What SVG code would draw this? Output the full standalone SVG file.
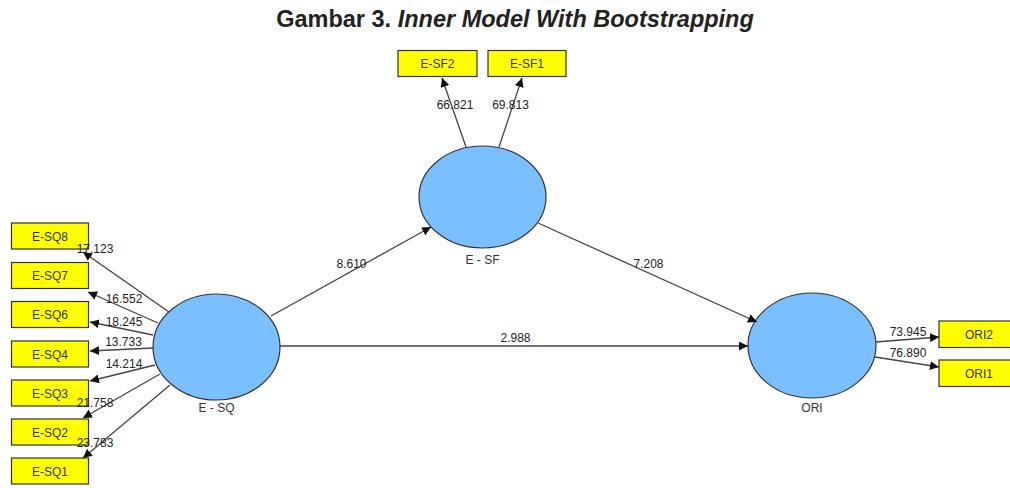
<svg xmlns="http://www.w3.org/2000/svg" width="1010" height="488" viewBox="0 0 1010 488">
<defs>
<marker id="ah" viewBox="0 0 10 10" refX="10" refY="5" markerWidth="9" markerHeight="9" markerUnits="userSpaceOnUse" orient="auto">
<path d="M0,0 L10,5 L0,10 z" fill="#111"/>
</marker>
<style>
.box{fill:#ffff00;stroke:#333;stroke-width:1.2}
.lv{fill:#7abfff;stroke:#333;stroke-width:1.2}
.t{font-family:"Liberation Sans",Arial,sans-serif;font-size:12px;fill:#222;text-anchor:middle}
.n{font-family:"Liberation Sans",Arial,sans-serif;font-size:12px;fill:#333;text-anchor:middle}
.c{stroke:#444;stroke-width:1.3;fill:none;marker-end:url(#ah)}
</style>
</defs>
<rect width="1010" height="488" fill="#fff"/>
<text x="515" y="26.5" font-family="'Liberation Sans',Arial,sans-serif" font-size="23.5" font-weight="bold" fill="#222" text-anchor="middle">Gambar 3. <tspan font-style="italic">Inner Model With Bootstrapping</tspan></text>

<g id="E-SQ"><ellipse class="lv" cx="216.5" cy="347" rx="63.5" ry="53"/><text class="n" x="216.5" y="412">E - SQ</text></g>
<g id="E-SF"><ellipse class="lv" cx="482.5" cy="197" rx="63.5" ry="51"/><text class="n" x="482.5" y="264">E - SF</text></g>
<g id="ORI"><ellipse class="lv" cx="812" cy="345.5" rx="64" ry="52.5"/><text class="n" x="812" y="412">ORI</text></g>

<g id="E-SQ8"><rect class="box" x="11.5" y="223" width="77" height="26"/><text class="n" x="50" y="240.5">E-SQ8</text></g>
<g id="E-SQ7"><rect class="box" x="11.5" y="262.5" width="77" height="26"/><text class="n" x="50" y="280">E-SQ7</text></g>
<g id="E-SQ6"><rect class="box" x="11.5" y="301.5" width="77" height="26"/><text class="n" x="50" y="319">E-SQ6</text></g>
<g id="E-SQ4"><rect class="box" x="11.5" y="341" width="77" height="26"/><text class="n" x="50" y="358.5">E-SQ4</text></g>
<g id="E-SQ3"><rect class="box" x="11.5" y="380" width="77" height="26"/><text class="n" x="50" y="397.5">E-SQ3</text></g>
<g id="E-SQ2"><rect class="box" x="11.5" y="419" width="77" height="26"/><text class="n" x="50" y="436.5">E-SQ2</text></g>
<g id="E-SQ1"><rect class="box" x="11.5" y="458" width="77" height="26"/><text class="n" x="50" y="475.5">E-SQ1</text></g>
<g id="E-SF2"><rect class="box" x="398" y="50.5" width="79" height="26"/><text class="n" x="437.5" y="68">E-SF2</text></g>
<g id="E-SF1"><rect class="box" x="488" y="50.5" width="78" height="26"/><text class="n" x="527" y="68">E-SF1</text></g>
<g id="ORI2"><rect class="box" x="939" y="321" width="78" height="26.5"/><text class="n" x="979" y="338.5">ORI2</text></g>
<g id="ORI1"><rect class="box" x="939" y="360" width="78" height="26.5"/><text class="n" x="979" y="377.5">ORI1</text></g>

<g id="connectors">
<line class="c" x1="169" y1="312" x2="83" y2="252"/>
<line class="c" x1="158" y1="323" x2="88" y2="292"/>
<line class="c" x1="153" y1="335" x2="90" y2="322"/>
<line class="c" x1="153" y1="348" x2="90" y2="351"/>
<line class="c" x1="155" y1="365" x2="90" y2="381"/>
<line class="c" x1="160" y1="374" x2="83" y2="418"/>
<line class="c" x1="170" y1="385" x2="83" y2="458"/>
<line class="c" x1="466" y1="147" x2="442" y2="78"/>
<line class="c" x1="499" y1="147" x2="522" y2="78"/>
<line class="c" x1="271" y1="316" x2="431" y2="227"/>
<line class="c" x1="538" y1="223" x2="757" y2="322"/>
<line class="c" x1="280" y1="346" x2="748" y2="346"/>
<line class="c" x1="876" y1="342" x2="939" y2="337"/>
<line class="c" x1="875" y1="357" x2="939" y2="367"/>
</g>

<g id="labels">
<text class="t" x="95" y="253">17.123</text>
<text class="t" x="124" y="303">16.552</text>
<text class="t" x="124" y="326">18.245</text>
<text class="t" x="123.5" y="346">13.733</text>
<text class="t" x="124" y="368">14.214</text>
<text class="t" x="95" y="407">21.758</text>
<text class="t" x="95" y="447">23.783</text>
<text class="t" x="455" y="109">66.821</text>
<text class="t" x="510.5" y="109">69.813</text>
<text class="t" x="351.5" y="268">8.610</text>
<text class="t" x="648.5" y="268">7.208</text>
<text class="t" x="515.5" y="342">2.988</text>
<text class="t" x="908" y="336">73.945</text>
<text class="t" x="908" y="357">76.890</text>
</g>
</svg>
